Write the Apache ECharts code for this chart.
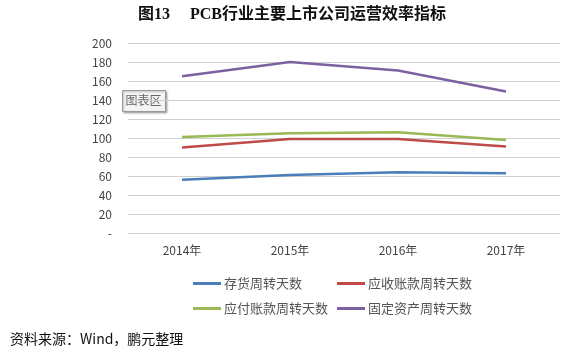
<!DOCTYPE html>
<html>
<head>
<meta charset="utf-8">
<script src="https://cdn.jsdelivr.net/npm/echarts@6/dist/echarts.min.js"></script>
<style>
  html, body { margin: 0; padding: 0; background: #fff; }
  #chart { width: 584px; height: 348px; }
</style>
</head>
<body>
<div id="chart"></div>
<script>
// Years on the category axis
const years = ['2014年', '2015年', '2016年', '2017年'];

// Turnover days per indicator
const inventoryDays = [56, 61, 64, 63];      // 存货周转天数
const receivableDays = [90, 99, 99, 91];     // 应收账款周转天数
const payableDays = [101, 105, 106, 98];     // 应付账款周转天数
const fixedAssetDays = [165, 180, 171, 149]; // 固定资产周转天数

const seriesNames = ['存货周转天数', '应收账款周转天数', '应付账款周转天数', '固定资产周转天数'];
const seriesValues = [inventoryDays, receivableDays, payableDays, fixedAssetDays];
const colors = ['#4A7EBB', '#BE4B48', '#98B954', '#7D60A0'];

const cjk = '"Noto Sans CJK SC", sans-serif';

const chart = echarts.init(document.getElementById('chart'), null, { renderer: 'canvas' });

// one legend per entry so the two rows line up in columns
const legendPos = [
  { left: 188, top: 272 },
  { left: 332, top: 272 },
  { left: 188, top: 297 },
  { left: 332, top: 297 }
];

chart.setOption({
  animation: false,
  color: colors,
  title: {
    text: '图13\u3000 PCB行业主要上市公司运营效率指标',
    left: 'center',
    top: 2,
    textStyle: {
      fontFamily: '"Liberation Serif", ' + cjk,
      fontWeight: 'bold',
      fontSize: 16,
      color: '#111'
    }
  },
  legend: legendPos.map((p, i) => ({
    data: [seriesNames[i]],
    left: p.left,
    top: p.top,
    itemWidth: 28,
    itemHeight: 3,
    itemGap: 0,
    icon: 'rect',
    textStyle: { fontFamily: cjk, fontSize: 13, color: '#555', padding: [0, 0, 0, -2] }
  })),
  grid: { left: 128, right: 24, top: 43, bottom: 115 },
  xAxis: {
    type: 'category',
    data: years,
    boundaryGap: true,
    axisLine: { show: false },
    axisTick: { show: false },
    axisLabel: { margin: 11, fontSize: 12, color: '#444', fontFamily: cjk }
  },
  yAxis: {
    type: 'value',
    min: 0,
    max: 200,
    interval: 20,
    axisLine: { show: false },
    axisTick: { show: false },
    splitLine: { lineStyle: { color: '#D0D0D0', width: 1 } },
    axisLabel: {
      margin: 16,
      fontSize: 12,
      color: '#444',
      fontFamily: cjk,
      formatter: v => (v === 0 ? '-' : String(v))
    }
  },
  series: seriesNames.map((name, i) => ({
    name: name,
    type: 'line',
    data: seriesValues[i],
    symbol: 'none',
    lineStyle: { width: 2.5, color: colors[i] },
    itemStyle: { color: colors[i] }
  })),
  graphic: [
    {
      type: 'group',
      left: 122,
      top: 90,
      children: [
        {
          type: 'rect',
          shape: { x: 0, y: 0, width: 43, height: 21 },
          style: { fill: '#F4F4F4', stroke: '#9A9A9A', lineWidth: 1, shadowBlur: 2, shadowOffsetX: 1, shadowOffsetY: 1, shadowColor: 'rgba(0,0,0,0.3)' }
        },
        {
          type: 'text',
          style: { x: 3, y: 4, text: '图表区', font: '12px ' + cjk, fill: '#666' }
        }
      ]
    },
    {
      type: 'text',
      left: 10,
      top: 332,
      style: { text: '资料来源：Wind，鹏元整理', font: '14px ' + cjk, fill: '#111' }
    }
  ]
});
</script>
</body>
</html>
